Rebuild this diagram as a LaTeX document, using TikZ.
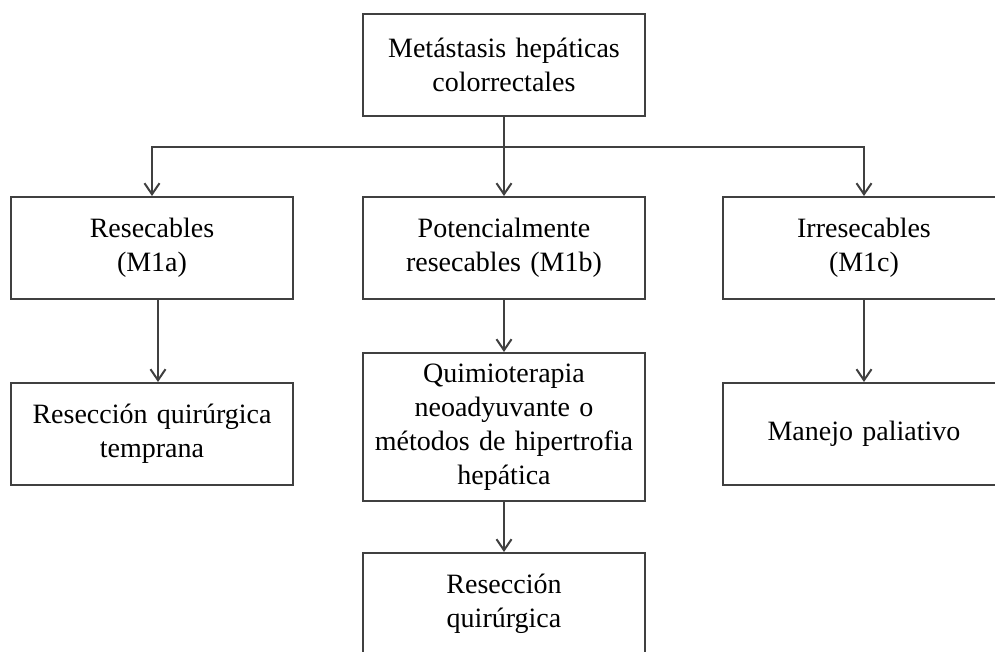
\documentclass[tikz,border=0pt]{standalone}
\usepackage{fontspec}
\setmainfont{Liberation Serif}
\usetikzlibrary{arrows.meta}
\definecolor{linec}{HTML}{404040}
\tikzset{
  box/.style={draw=linec, line width=2pt, minimum width=282pt, minimum height=102pt,
    text width=275pt, align=center, inner sep=0pt, font=\fontsize{28}{34}\selectfont},
  conn/.style={draw=linec, line width=2pt},
  arr/.style={conn, -{Straight Barb[length=11pt,width=15pt,line width=2pt]}}
}
\begin{document}
\begin{tikzpicture}[x=1pt,y=-1pt]
\useasboundingbox (0,0) rectangle (995,651);
\clip (0,0) rectangle (995,651);
\fill[white] (0,0) rectangle (995,651);
\node[box] (top) at (504,65) {Metástasis hepáticas\\colorrectales};
\node[box] (res) at (152,248) {Resecables\\(M1a)};
\node[box] (pot) at (504,248) {Potencialmente\\resecables (M1b)};
\node[box] (irr) at (864,248) {Irresecables\\(M1c)};
\node[box] (rqt) at (152,434) {Resección quirúrgica\\temprana};
\node[box, minimum height=148pt] (qui) at (504,427) {Quimioterapia\\neoadyuvante o\\métodos de hipertrofia\\hepática};
\node[box] (man) at (864,434) {Manejo paliativo};
\node[box] (rq) at (504,604) {Resección\\quirúrgica};
\coordinate (j) at (504,147);
\draw[conn] (top.south) -- (j);
\draw[arr] (j) -| (res.north);
\draw[arr] (j) -- (pot.north);
\draw[arr] (j) -| (irr.north);
\draw[arr] ([xshift=6pt]res.south) -- ([xshift=6pt]rqt.north);
\draw[arr] (pot.south) -- (qui.north);
\draw[arr] (irr.south) -- (man.north);
\draw[arr] (qui.south) -- (rq.north);
\end{tikzpicture}
\end{document}
